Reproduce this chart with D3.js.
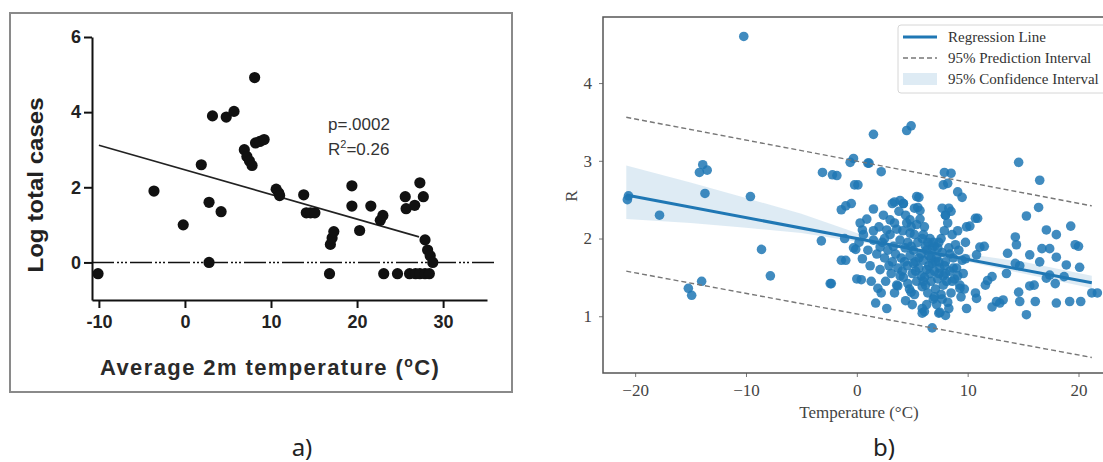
<!DOCTYPE html>
<html>
<head>
<meta charset="utf-8">
<script src="https://cdn.jsdelivr.net/npm/d3@7"></script>
<style>
  html, body { margin: 0; padding: 0; background: #fff; }
  svg { display: block; }
</style>
</head>
<body>
<svg id="chart" width="1103" height="462"></svg>
<script>
// ---------------- Panel a) data ----------------
const leftTemp = [
  -10.1, -3.6, -0.2, 1.9, 2.8, 2.8, 3.2, 4.2, 4.8, 5.7,
  6.9, 7.2, 7.5, 7.8, 8.1, 8.2, 8.7, 9.2, 10.6, 10.9,
  11.0, 13.8, 14.1, 14.6, 15.1, 16.8, 16.9, 17.1, 17.3, 19.4,
  19.4, 20.3, 21.6, 22.7, 23.0, 23.1, 24.7, 25.6, 25.7, 26.1,
  26.7, 26.8, 27.3, 27.3, 27.7, 27.9, 27.9, 28.2, 28.4, 28.5,
  28.8
];
const leftLogCases = [
  -0.3, 1.9, 1.0, 2.6, 1.6, 0.0, 3.9, 1.35, 3.87, 4.02,
  3.0, 2.82, 2.7, 2.58, 4.92, 3.18, 3.22, 3.27, 1.95, 1.85,
  1.78, 1.8, 1.32, 1.32, 1.32, -0.3, 0.48, 0.65, 0.82, 2.04,
  1.5, 0.85, 1.5, 1.12, 1.25, -0.3, -0.3, 1.75, 1.43, -0.3,
  1.52, -0.3, 2.12, -0.3, 1.75, 0.6, -0.3, 0.33, -0.3, 0.18,
  0.0
];
const leftFitTemp = [-10, 27.2];
const leftFitLog = [3.12, 0.68];
const leftXTicks = [-10, 0, 10, 20, 30];
const leftYTicks = [0, 2, 4, 6];
const leftStats = ["p=.0002", "R", "2", "=0.26"];

// ---------------- Panel b) data ----------------
const rightTemp = [
  -10.2,-20.7,-20.6,-17.8,-14.2,-13.9,-13.5,-13.7,-9.6,-15.2,
  -14.9,-14.0,-8.6,-7.8,-3.1,-1.8,-3.2,-2.3,-1.1,-1.0,
  -0.5,-0.3,-0.6,0.1,-1.0,-0.1,0.4,1.5,1.1,2.2,
  1.5,4.5,4.9,5.6,8.5,8.2,9.1,9.5,10.9,10.2,
  11.5,14.6,15.3,16.5,16.4,17.1,18.0,19.3,20.0,17.4,
  18.9,20.1,21.2,20.2,19.2,18.0,15.3,16.1,15.6,14.6,
  13.2,12.6,12.2,9.9,9.3,8.0,6.8,6.1,1.7,2.7,
  1.9,2.2,14.3,14.4,14.3,13.6,15.6,16.7,19.7,18.0,
  16.5,13.5,14.7,17.4,18.7,17.1,17.9,16.0,14.7,11.8,
  12.2,11.6,10.7,10.8,9.8,10.8,11.1,10.7,9.9,-2.2,
  -0.2,-1.4,-2.4,0.0,1.0,7.9,7.8,5.4,3.9,3.4,
  4.2,5.2,5.7,7.7,8.3,8.0,0.3,0.5,3.0,2.7,
  4.8,4.8,-0.3,1.5,2.1,-1.4,0.5,3.7,4.9,5.9,
  5.9,7.4,12.9,21.7,2.0,2.3,2.5,2.1,2.6,2.4,
  2.8,3.0,3.2,3.1,3.4,3.3,3.6,3.5,3.8,3.7,
  3.9,4.0,4.15,4.2,4.35,4.4,4.55,4.6,4.75,4.8,
  4.9,4.4,4.2,5.0,5.1,5.2,5.3,5.4,5.5,5.6,
  5.7,5.8,5.9,5.2,5.5,5.0,6.0,6.1,6.2,6.3,
  6.4,6.5,6.6,6.7,6.8,6.9,6.1,6.4,6.6,6.8,
  7.0,7.1,7.2,7.3,7.4,7.5,7.6,7.7,7.8,7.9,
  7.2,7.5,7.0,7.8,8.0,8.1,8.2,8.3,8.4,8.5,
  8.6,8.7,8.8,8.9,8.2,8.5,8.0,9.0,9.2,9.3,
  9.5,9.6,9.8,9.1,9.4,0.2,0.6,1.0,1.2,1.5,
  1.8,0.9,1.3,
  3.2,3.6,4.1,4.6,5.1,5.4,5.8,6.2,6.5,6.9,
  7.1,7.4,7.7,8.0,8.4,8.7,6.3,5.6,4.9,4.3,
  3.9,5.3,6.0,6.7,7.3,7.9,8.6,9.1,2.9,3.4,
  4.5,5.9,6.3,7.0,7.6,8.3,9.7,2.5,6.0,7.4
];
const rightR = [
  4.60,2.50,2.55,2.30,2.85,2.95,2.88,2.58,2.54,1.36,
  1.27,1.45,1.86,1.52,2.85,2.81,1.97,1.42,2.00,2.42,
  2.45,3.03,2.98,2.69,1.72,1.86,1.47,3.34,2.97,2.86,
  2.38,3.39,3.45,2.53,2.84,2.71,2.60,2.53,2.26,2.16,
  1.90,2.98,2.29,2.75,2.40,2.11,2.05,2.16,1.90,1.87,
  1.66,1.63,1.30,1.19,1.19,1.17,1.02,1.19,1.39,1.31,
  1.21,1.19,1.12,1.10,1.36,1.01,0.85,1.06,1.17,1.10,
  1.36,1.30,1.68,1.92,2.02,1.81,1.79,1.87,1.92,1.76,
  1.70,1.55,1.65,1.53,1.51,1.49,1.42,1.40,1.19,1.46,
  1.51,1.40,1.30,1.23,1.74,1.79,1.89,2.26,2.15,2.82,
  2.69,2.37,1.42,1.48,2.97,2.85,2.69,2.54,2.49,2.47,
  2.45,2.39,2.36,2.39,2.39,2.30,2.20,2.11,2.24,2.11,
  2.24,2.07,1.88,1.98,1.89,1.72,1.74,1.39,1.31,1.10,
  1.04,1.04,1.17,1.30,2.15,1.95,1.75,1.60,1.45,2.30,
  1.85,2.05,1.70,1.55,2.20,1.90,1.40,1.80,2.35,1.62,
  1.98,1.75,2.10,1.50,1.88,2.30,1.65,1.95,1.35,1.78,
  2.15,1.20,2.45,1.55,1.85,2.05,1.70,1.45,1.95,1.62,
  2.25,1.80,1.38,1.28,2.40,1.15,1.72,1.50,1.90,1.60,
  1.30,1.78,2.00,1.45,1.68,1.22,2.15,1.95,1.55,1.88,
  1.58,1.35,1.75,1.48,1.95,1.62,1.28,1.82,1.52,2.10,
  1.15,1.05,1.90,1.40,1.70,1.45,2.20,1.88,1.58,1.30,
  2.05,1.75,1.48,1.92,1.18,2.35,2.30,1.62,1.85,1.40,
  1.72,1.55,1.95,2.10,1.25,1.95,2.05,1.85,1.65,2.10,
  1.80,2.25,1.45,
  2.45,2.12,1.58,1.42,1.68,2.18,1.52,1.40,1.65,1.95,
  1.70,1.55,1.22,1.55,1.80,1.62,1.85,1.75,1.90,1.70,
  1.52,1.58,2.05,1.75,1.88,1.65,1.45,1.52,1.65,1.30,
  2.20,2.00,1.15,1.25,2.00,1.10,1.35,2.00,1.45,1.70
];
const regTemp = [-20.8, 21.2];
const regR = [2.56, 1.43];
const predUpperR = [3.56, 2.42];
const predLowerR = [1.58, 0.47];
const ciTemp = [-20.8, -15, -10, -5, 0, 3, 6, 10, 15, 21.2];
const ciLow  = [2.25, 2.20, 2.14, 2.07, 1.96, 1.90, 1.82, 1.70, 1.55, 1.36];
const ciHigh = [2.94, 2.72, 2.52, 2.32, 2.07, 1.98, 1.89, 1.80, 1.70, 1.52];
const rightXTicks = [-20, -10, 0, 10, 20];
const rightYTicks = [1, 2, 3, 4];
const legendLabels = ["Regression Line", "95% Prediction Interval", "95% Confidence Interval"];

// ---------------- Drawing ----------------
const svg = d3.select("#chart");
const blue = "#1f77b4";

// ===== Panel a =====
const gA = svg.append("g");
gA.append("rect").attr("x", 10).attr("y", 13).attr("width", 502).attr("height", 379)
  .attr("fill", "none").attr("stroke", "#8a8a8a").attr("stroke-width", 2);

const xA = d3.scaleLinear().domain([-10.8, 35.1]).range([92, 487]);
const yA = d3.scaleLinear().domain([-1, 6]).range([300, 37]);

// zero reference line
gA.append("line")
  .attr("x1", xA(-10.8)).attr("x2", xA(36.1))
  .attr("y1", yA(0)).attr("y2", yA(0))
  .attr("stroke", "#111").attr("stroke-width", 1.5)
  .attr("stroke-dasharray", "22 3 2 2 2 2 2 3");

const axA_x = gA.append("g").attr("transform", `translate(0,${yA(-1)})`)
  .call(d3.axisBottom(xA).tickValues(leftXTicks).tickFormat(d => String(d))
    .tickSize(8).tickSizeOuter(0).tickPadding(7));
const axA_y = gA.append("g").attr("transform", `translate(${xA(-10.8)},0)`)
  .call(d3.axisLeft(yA).tickValues(leftYTicks).tickFormat(d => String(d))
    .tickSize(8).tickSizeOuter(0).tickPadding(3));
[axA_x, axA_y].forEach(ax => {
  ax.select(".domain").attr("stroke", "#111").attr("stroke-width", 2);
  ax.selectAll(".tick line").attr("stroke", "#111").attr("stroke-width", 2);
  ax.selectAll(".tick text").attr("fill", "#222")
    .style("font-family", "'Liberation Sans', Arial, sans-serif")
    .style("font-weight", "bold").style("font-size", "18px");
});

// regression line
gA.append("line")
  .attr("x1", xA(leftFitTemp[0])).attr("y1", yA(leftFitLog[0]))
  .attr("x2", xA(leftFitTemp[1])).attr("y2", yA(leftFitLog[1]))
  .attr("stroke", "#222").attr("stroke-width", 1.6);

// points
gA.append("g").selectAll("circle").data(leftTemp).join("circle")
  .attr("cx", d => xA(d)).attr("cy", (d, i) => yA(leftLogCases[i]))
  .attr("r", 5.6).attr("fill", "#111");

// stats text
const statFont = "'Liberation Sans', Arial, sans-serif";
gA.append("text").attr("x", 328).attr("y", 130).text(leftStats[0])
  .attr("fill", "#333").style("font-family", statFont).style("font-size", "17px");
const rt = gA.append("text").attr("x", 328).attr("y", 155)
  .attr("fill", "#333").style("font-family", statFont).style("font-size", "17px");
rt.append("tspan").text(leftStats[1]);
rt.append("tspan").text(leftStats[2]).attr("dy", -7).style("font-size", "11px");
rt.append("tspan").text(leftStats[3]).attr("dy", 7);

// axis titles
gA.append("text").attr("transform", "translate(43,185) rotate(-90)")
  .attr("text-anchor", "middle").text("Log total cases")
  .attr("fill", "#222").style("font-family", statFont).style("font-weight", "bold")
  .style("font-size", "22px").attr("textLength", 175).attr("lengthAdjust", "spacingAndGlyphs");
const xt = gA.append("text").attr("x", 100).attr("y", 375)
  .attr("fill", "#2a2a2a").style("font-family", statFont).style("font-weight", "bold")
  .style("font-size", "22px").style("letter-spacing", "1.4px");
xt.append("tspan").text("Average 2m temperature (");
xt.append("tspan").text("o").attr("dy", -8).style("font-size", "14px");
xt.append("tspan").text("C)").attr("dy", 8);

// panel label
svg.append("text").attr("x", 302).attr("y", 456).attr("text-anchor", "middle").text("a)")
  .attr("fill", "#222").style("font-family", "'Noto Sans', sans-serif").style("font-size", "24px");

// ===== Panel b =====
const gB = svg.append("g");
const xB = d3.scaleLinear().domain([-22.9, 22.3]).range([603, 1104]);
const yB = d3.scaleLinear().domain([0.27, 4.85]).range([373, 17]);

// confidence band
const ciData = ciTemp.map((t, i) => ({ t, lo: ciLow[i], hi: ciHigh[i] }));
gB.append("path").datum(ciData)
  .attr("d", d3.area().x(d => xB(d.t)).y0(d => yB(d.lo)).y1(d => yB(d.hi)))
  .attr("fill", blue).attr("fill-opacity", 0.15);

// points
gB.append("g").selectAll("circle").data(rightTemp).join("circle")
  .attr("cx", d => xB(d)).attr("cy", (d, i) => yB(rightR[i]))
  .attr("r", 4.8).attr("fill", blue).attr("fill-opacity", 0.85);

// regression line
gB.append("line")
  .attr("x1", xB(regTemp[0])).attr("y1", yB(regR[0]))
  .attr("x2", xB(regTemp[1])).attr("y2", yB(regR[1]))
  .attr("stroke", blue).attr("stroke-width", 3);

// prediction interval
[predUpperR, predLowerR].forEach(arr => {
  gB.append("line")
    .attr("x1", xB(regTemp[0])).attr("y1", yB(arr[0]))
    .attr("x2", xB(regTemp[1])).attr("y2", yB(arr[1]))
    .attr("stroke", "#777").attr("stroke-width", 1.4).attr("stroke-dasharray", "5 3");
});

// axes
const serif = "'Liberation Serif', 'Times New Roman', serif";
const axB_x = gB.append("g").attr("transform", `translate(0,373)`)
  .call(d3.axisBottom(xB).tickValues(rightXTicks).tickFormat(d3.format("d"))
    .tickSize(4).tickSizeOuter(0).tickPadding(7));
const axB_y = gB.append("g").attr("transform", `translate(603,0)`)
  .call(d3.axisLeft(yB).tickValues(rightYTicks).tickFormat(d3.format("d"))
    .tickSize(4).tickSizeOuter(0).tickPadding(7));
[axB_x, axB_y].forEach(ax => {
  ax.select(".domain").remove();
  ax.selectAll(".tick line").attr("stroke", "#777").attr("stroke-width", 1);
  ax.selectAll(".tick text").attr("fill", "#444")
    .style("font-family", serif).style("font-size", "17px");
});
// spines
gB.append("rect").attr("x", 603).attr("y", 17).attr("width", 501).attr("height", 356)
  .attr("fill", "none").attr("stroke", "#555").attr("stroke-width", 1.5);

gB.append("text").attr("x", 859).attr("y", 418).attr("text-anchor", "middle")
  .text("Temperature (°C)").attr("fill", "#444")
  .style("font-family", serif).style("font-size", "17px");
gB.append("text").attr("transform", "translate(577,196) rotate(-90)").attr("text-anchor", "middle")
  .text("R").attr("fill", "#444").style("font-family", serif).style("font-size", "17px");

// legend
const lg = gB.append("g");
lg.append("rect").attr("x", 898).attr("y", 25).attr("width", 215).attr("height", 68).attr("rx", 3)
  .attr("fill", "#fff").attr("fill-opacity", 0.85).attr("stroke", "#d6d6d6").attr("stroke-width", 1);
const rowsY = [37, 58, 79];
lg.append("line").attr("x1", 903).attr("x2", 937).attr("y1", rowsY[0]).attr("y2", rowsY[0])
  .attr("stroke", blue).attr("stroke-width", 3);
lg.append("line").attr("x1", 903).attr("x2", 937).attr("y1", rowsY[1]).attr("y2", rowsY[1])
  .attr("stroke", "#777").attr("stroke-width", 1.4).attr("stroke-dasharray", "5 3");
lg.append("rect").attr("x", 903).attr("y", rowsY[2] - 6).attr("width", 34).attr("height", 12)
  .attr("fill", blue).attr("fill-opacity", 0.15);
lg.selectAll("text.lab").data(legendLabels).join("text").attr("class", "lab")
  .attr("x", 948).attr("y", (d, i) => rowsY[i] + 5).text(d => d)
  .attr("fill", "#333").style("font-family", serif).style("font-size", "15px");

svg.append("text").attr("x", 884).attr("y", 456).attr("text-anchor", "middle").text("b)")
  .attr("fill", "#222").style("font-family", "'Noto Sans', sans-serif").style("font-size", "24px");
</script>
</body>
</html>
